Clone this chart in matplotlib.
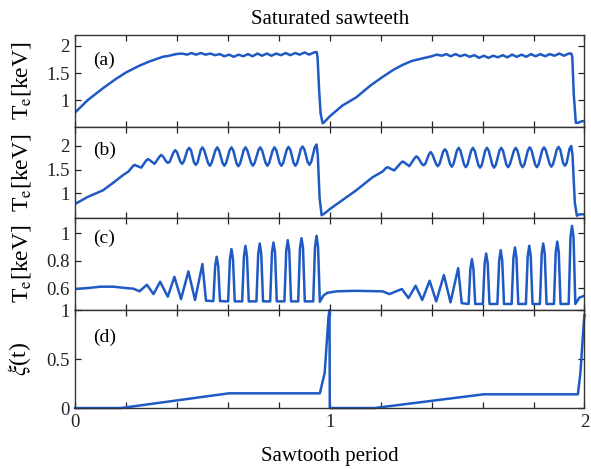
import numpy as np
import matplotlib
matplotlib.use('Agg')
import matplotlib.pyplot as plt

plt.rcParams['font.family'] = 'Liberation Serif'
plt.rcParams['mathtext.fontset'] = 'stix'

# ---- panel (a): Te [keV] ----
a_x = [0.0, 0.05, 0.11, 0.16, 0.20, 0.25, 0.29, 0.32, 0.344, 0.37, 0.396,
       0.42, 0.44, 0.457, 0.475, 0.494, 0.512, 0.531, 0.549, 0.568, 0.586,
       0.605, 0.623, 0.642, 0.66, 0.679, 0.697, 0.716, 0.734, 0.753, 0.771,
       0.79, 0.808, 0.827, 0.845, 0.864, 0.882, 0.901, 0.919, 0.938, 0.948,
       0.952, 0.958, 0.964, 0.972, 0.98, 1.0, 1.05, 1.104, 1.16, 1.208,
       1.25, 1.286, 1.32, 1.363, 1.40,
       1.42, 1.44, 1.457, 1.475, 1.494, 1.512, 1.531, 1.549, 1.568, 1.586,
       1.605, 1.623, 1.642, 1.66, 1.679, 1.697, 1.716, 1.734, 1.753, 1.771,
       1.79, 1.808, 1.827, 1.845, 1.864, 1.882, 1.901, 1.919, 1.938, 1.948,
       1.952, 1.958, 1.966, 1.975, 1.99, 2.0]
a_y = [0.77, 1.0, 1.22, 1.39, 1.51, 1.63, 1.71, 1.76, 1.80, 1.82, 1.85,
       1.86, 1.84, 1.87, 1.84, 1.87, 1.84, 1.86, 1.83, 1.85, 1.81,
       1.84, 1.80, 1.84, 1.81, 1.85, 1.81, 1.86, 1.82, 1.86, 1.82,
       1.86, 1.83, 1.87, 1.83, 1.87, 1.84, 1.88, 1.84, 1.88, 1.89,
       1.80, 1.20, 0.75, 0.57, 0.60, 0.70, 0.90, 1.05, 1.27, 1.43,
       1.56, 1.65, 1.72, 1.77, 1.81,
       1.84, 1.82, 1.85, 1.81, 1.85, 1.81, 1.84, 1.80, 1.83, 1.78,
       1.82, 1.78, 1.82, 1.79, 1.83, 1.79, 1.84, 1.80, 1.84, 1.80,
       1.85, 1.81, 1.85, 1.81, 1.85, 1.82, 1.86, 1.82, 1.86, 1.86,
       1.80, 1.10, 0.58, 0.58, 0.61, 0.61]

# ---- panel (b): Te [keV], (x, Te) ----
b_pts = [
    (0.0, 0.77), (0.05, 0.92), (0.11, 1.06), (0.15, 1.22), (0.188, 1.38),
    (0.21, 1.46), (0.227, 1.57), (0.234, 1.60), (0.241, 1.58), (0.26, 1.54),
    (0.279, 1.69), (0.286, 1.72), (0.293, 1.70), (0.312, 1.62), (0.331, 1.77),
    (0.338, 1.81), (0.345, 1.78), (0.358, 1.67), (0.365, 1.64), (0.372, 1.67),
    (0.386, 1.86), (0.393, 1.91), (0.400, 1.87), (0.413, 1.67), (0.420, 1.62),
    (0.427, 1.67), (0.441, 1.91), (0.448, 1.96), (0.455, 1.91), (0.467, 1.65),
    (0.474, 1.60), (0.481, 1.65), (0.493, 1.91), (0.500, 1.97), (0.507, 1.91),
    (0.522, 1.64), (0.529, 1.58), (0.536, 1.64), (0.551, 1.91), (0.558, 1.97),
    (0.565, 1.91), (0.579, 1.64), (0.586, 1.58), (0.593, 1.64), (0.607, 1.91),
    (0.614, 1.97), (0.621, 1.91), (0.634, 1.63), (0.641, 1.57), (0.648, 1.63),
    (0.662, 1.91), (0.669, 1.97), (0.676, 1.91), (0.691, 1.64), (0.698, 1.58),
    (0.705, 1.64), (0.720, 1.91), (0.727, 1.97), (0.734, 1.91), (0.748, 1.64),
    (0.755, 1.58), (0.762, 1.64), (0.776, 1.91), (0.783, 1.97), (0.790, 1.91),
    (0.803, 1.64), (0.810, 1.58), (0.817, 1.64), (0.831, 1.92), (0.838, 1.98),
    (0.845, 1.92), (0.858, 1.64), (0.865, 1.58), (0.872, 1.64), (0.886, 1.93),
    (0.893, 1.99), (0.900, 1.93), (0.913, 1.66), (0.920, 1.60), (0.927, 1.66),
    (0.941, 1.97), (0.948, 2.03), (0.953, 1.80), (0.96, 0.90), (0.968, 0.53),
    (0.98, 0.57), (1.0, 0.66), (1.039, 0.81), (1.104, 1.06), (1.169, 1.34),
    (1.208, 1.46), (1.220, 1.53), (1.227, 1.55), (1.234, 1.53), (1.253, 1.48),
    (1.279, 1.64), (1.286, 1.67), (1.293, 1.65), (1.312, 1.57), (1.333, 1.74),
    (1.340, 1.78), (1.347, 1.75), (1.361, 1.62), (1.368, 1.59), (1.375, 1.62),
    (1.389, 1.82), (1.396, 1.87), (1.403, 1.82), (1.417, 1.62), (1.424, 1.57),
    (1.431, 1.62), (1.445, 1.88), (1.452, 1.93), (1.459, 1.88), (1.472, 1.62),
    (1.479, 1.56), (1.486, 1.62), (1.499, 1.90), (1.506, 1.96), (1.513, 1.90),
    (1.527, 1.61), (1.534, 1.55), (1.541, 1.61), (1.555, 1.90), (1.562, 1.96),
    (1.569, 1.90), (1.583, 1.60), (1.590, 1.54), (1.597, 1.60), (1.610, 1.90),
    (1.617, 1.96), (1.624, 1.90), (1.638, 1.60), (1.645, 1.54), (1.652, 1.60),
    (1.666, 1.90), (1.673, 1.96), (1.680, 1.90), (1.693, 1.61), (1.700, 1.55),
    (1.707, 1.61), (1.723, 1.90), (1.730, 1.96), (1.737, 1.90), (1.750, 1.61),
    (1.757, 1.55), (1.764, 1.61), (1.778, 1.91), (1.785, 1.97), (1.792, 1.91),
    (1.806, 1.61), (1.813, 1.55), (1.820, 1.61), (1.834, 1.91), (1.841, 1.97),
    (1.848, 1.91), (1.863, 1.62), (1.870, 1.56), (1.877, 1.62), (1.891, 1.92),
    (1.898, 1.98), (1.905, 1.92), (1.916, 1.64), (1.923, 1.58), (1.930, 1.64),
    (1.941, 1.94), (1.948, 2.00), (1.953, 1.80), (1.962, 0.80), (1.97, 0.52),
    (1.98, 0.55), (2.0, 0.55),
]

# ---- panel (c): Te [keV] ----
c_pts = [
    (0.0, 0.593), (0.05, 0.60), (0.1, 0.61), (0.15, 0.61), (0.2, 0.60),
    (0.23, 0.595), (0.253, 0.576), (0.282, 0.624), (0.308, 0.556),
    (0.334, 0.646), (0.364, 0.537), (0.390, 0.682), (0.416, 0.52),
    (0.445, 0.721), (0.471, 0.513), (0.500, 0.775), (0.514, 0.508),
    (0.543, 0.505), (0.550, 0.76), (0.556, 0.828), (0.562, 0.76), (0.569, 0.505),
    (0.601, 0.503), (0.608, 0.81), (0.614, 0.884), (0.620, 0.81), (0.627, 0.503),
    (0.656, 0.503), (0.663, 0.83), (0.669, 0.908), (0.675, 0.83), (0.682, 0.503),
    (0.712, 0.503), (0.719, 0.85), (0.725, 0.925), (0.731, 0.85), (0.738, 0.503),
    (0.766, 0.503), (0.773, 0.86), (0.779, 0.932), (0.785, 0.86), (0.792, 0.503),
    (0.822, 0.503), (0.829, 0.87), (0.835, 0.949), (0.841, 0.87), (0.848, 0.503),
    (0.876, 0.503), (0.883, 0.89), (0.889, 0.964), (0.895, 0.89), (0.902, 0.503),
    (0.935, 0.503), (0.942, 0.90), (0.948, 0.981), (0.954, 0.90), (0.961, 0.50),
    (0.975, 0.545), (0.99, 0.565), (1.026, 0.576), (1.1, 0.58), (1.208, 0.576),
    (1.234, 0.556), (1.283, 0.593), (1.309, 0.527), (1.337, 0.617),
    (1.363, 0.513), (1.392, 0.653), (1.418, 0.503), (1.448, 0.695),
    (1.474, 0.496), (1.504, 0.745), (1.518, 0.49),
    (1.545, 0.484), (1.552, 0.74), (1.558, 0.811), (1.564, 0.74), (1.571, 0.484),
    (1.601, 0.484), (1.608, 0.78), (1.614, 0.852), (1.620, 0.78), (1.627, 0.484),
    (1.658, 0.484), (1.665, 0.80), (1.671, 0.876), (1.677, 0.80), (1.684, 0.484),
    (1.714, 0.484), (1.721, 0.82), (1.727, 0.896), (1.733, 0.82), (1.740, 0.484),
    (1.770, 0.484), (1.777, 0.83), (1.783, 0.908), (1.789, 0.83), (1.796, 0.484),
    (1.825, 0.484), (1.832, 0.85), (1.838, 0.925), (1.844, 0.85), (1.851, 0.484),
    (1.880, 0.484), (1.887, 0.86), (1.893, 0.939), (1.899, 0.86), (1.906, 0.484),
    (1.938, 0.484), (1.945, 0.97), (1.951, 1.053), (1.957, 0.97), (1.964, 0.484),
    (1.98, 0.53), (2.0, 0.545),
]

# ---- panel (d): xi(t) ----
d_x = [0.0, 0.18, 0.604, 0.961, 0.98, 0.995, 0.999, 1.0, 1.175, 1.604,
       1.974, 1.984, 1.998, 2.0]
d_y = [0.0, 0.0, 0.15, 0.15, 0.36, 0.93, 1.0, 0.0, 0.0, 0.14,
       0.14, 0.36, 0.90, 0.95]

b_x, b_y = zip(*b_pts)
c_x, c_y = zip(*c_pts)

te_lab = 'T$_\\mathrm{e}$[keV]'
panels = [
    (a_x, a_y, (0.5, 2.2), [1, 1.5, 2], ['1', '1.5', '2'], te_lab, '(a)'),
    (b_x, b_y, (0.47, 2.4), [1, 1.5, 2], ['1', '1.5', '2'], te_lab, '(b)'),
    (c_x, c_y, (0.44, 1.11), [0.6, 0.8, 1], ['0.6', '0.8', '1'], te_lab, '(c)'),
    (d_x, d_y, (0.0, 1.0), [0, 0.5, 1], ['0', '0.5', '1'], '$\\xi$(t)', '(d)'),
]

# axes boxes in figure fraction
boxes = [(0.127, 0.729, 0.862, 0.196),
         (0.127, 0.535, 0.862, 0.194),
         (0.127, 0.339, 0.862, 0.196),
         (0.127, 0.130, 0.862, 0.209)]
label_y = [0.73, 0.75, 0.78, 0.72]

line_col = '#1f5ac4'

fig = plt.figure(figsize=(5.91, 4.69), dpi=100)

for i, (xs, ys, ylim, yt, ytl, ylab, tag) in enumerate(panels):
    ax = fig.add_axes(boxes[i])
    ax.plot(xs, ys, color=line_col, lw=1.8, clip_on=(i != 3))
    ax.set_xlim(0, 2)
    ax.set_ylim(*ylim)
    ax.set_xticks(np.arange(0, 2.01, 0.2))
    if i == 3:
        ax.set_xticklabels(['0', '', '', '', '', '1', '', '', '', '', '2'])
        ax.set_xlabel('Sawtooth period', fontsize=15, labelpad=12)
    else:
        ax.set_xticklabels([])
    ax.set_yticks(yt)
    ax.set_yticklabels(ytl)
    ax.tick_params(direction='in', top=True, right=True, length=4.5,
                   width=0.9, labelsize=13.5, pad=4, colors='#222222')
    for s in ax.spines.values():
        s.set_linewidth(1.0)
        s.set_color('#333333')
    ax.set_ylabel(ylab, fontsize=17)
    ax.yaxis.set_label_coords(-0.083, 0.5)
    ax.text(0.035, label_y[i], tag, transform=ax.transAxes, fontsize=14,
            va='center', ha='left')
    if i == 0:
        ax.set_title('Saturated sawteeth', fontsize=15, pad=8)

fig.savefig('out.png', dpi=100)
